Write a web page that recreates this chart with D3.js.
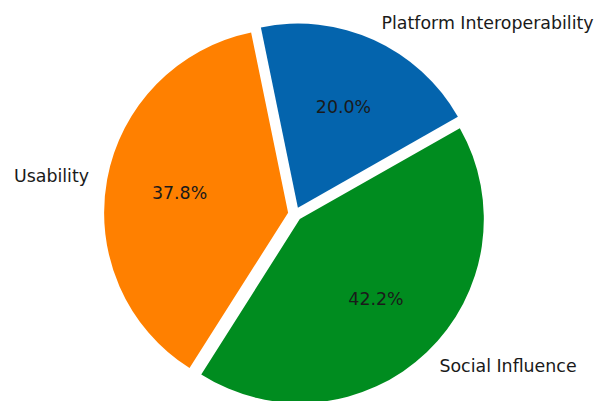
<!DOCTYPE html>
<html>
<head>
<meta charset="utf-8">
<script src="https://cdn.jsdelivr.net/npm/d3@7"></script>
<style>
  body { margin: 0; background: #fff; }
  text { font-family: "DejaVu Sans", sans-serif; font-size: 17.4px; fill: #1a1a1a; }
</style>
</head>
<body>
<div id="chart-area"></div>
<script>
// data
const categories = ["Platform Interoperability", "Social Influence", "Usability"];
const counts = [9, 19, 17];
const colors = ["#0464ad", "#008c1f", "#ff8000"];

const WIDTH = 598, HEIGHT = 401;
const CX = 295, CY = 214, R = 184,
    explode = 7,           // px each wedge is pushed out
    startDeg = -11.6;      // clockwise from 12 o'clock

const svg = d3.select("#chart-area").append("svg")
    .attr("width", WIDTH)
    .attr("height", HEIGHT)

const rad = d => d * Math.PI / 180
const total = d3.sum(counts)

const pie = d3.pie()
    .sort(null)
    .startAngle(rad(startDeg))
    .endAngle(rad(startDeg + 360))

const arcs = pie(counts)
const arc = d3.arc().innerRadius(0).outerRadius(R)

const g = svg.append("g")
    .attr("transform", `translate(${CX},${CY})`)

const wedges = g.selectAll(".wedge")
    .data(arcs)
    .enter()
    .append("g")
    .attr("class", "wedge")
    .attr("transform", d => {
        let m = (d.startAngle + d.endAngle) / 2
        return `translate(${explode * Math.sin(m)},${-explode * Math.cos(m)})`
    })

wedges.append("path")
    .attr("d", arc)
    .attr("fill", (d, i) => colors[i])

// percent labels (pctdistance 0.6)
wedges.append("text")
    .attr("x", d => 0.6 * R * Math.sin((d.startAngle + d.endAngle) / 2))
    .attr("y", d => -0.6 * R * Math.cos((d.startAngle + d.endAngle) / 2))
    .attr("text-anchor", "middle")
    .attr("dominant-baseline", "central")
    .text(d => (d.value / total * 100).toFixed(1) + "%")

// category labels (labeldistance 1.1)
wedges.append("text")
    .attr("x", d => 1.1 * R * Math.sin((d.startAngle + d.endAngle) / 2))
    .attr("y", d => -1.1 * R * Math.cos((d.startAngle + d.endAngle) / 2))
    .attr("text-anchor", d => Math.sin((d.startAngle + d.endAngle) / 2) > 0 ? "start" : "end")
    .attr("dominant-baseline", "central")
    .text((d, i) => categories[i])
</script>
</body>
</html>
